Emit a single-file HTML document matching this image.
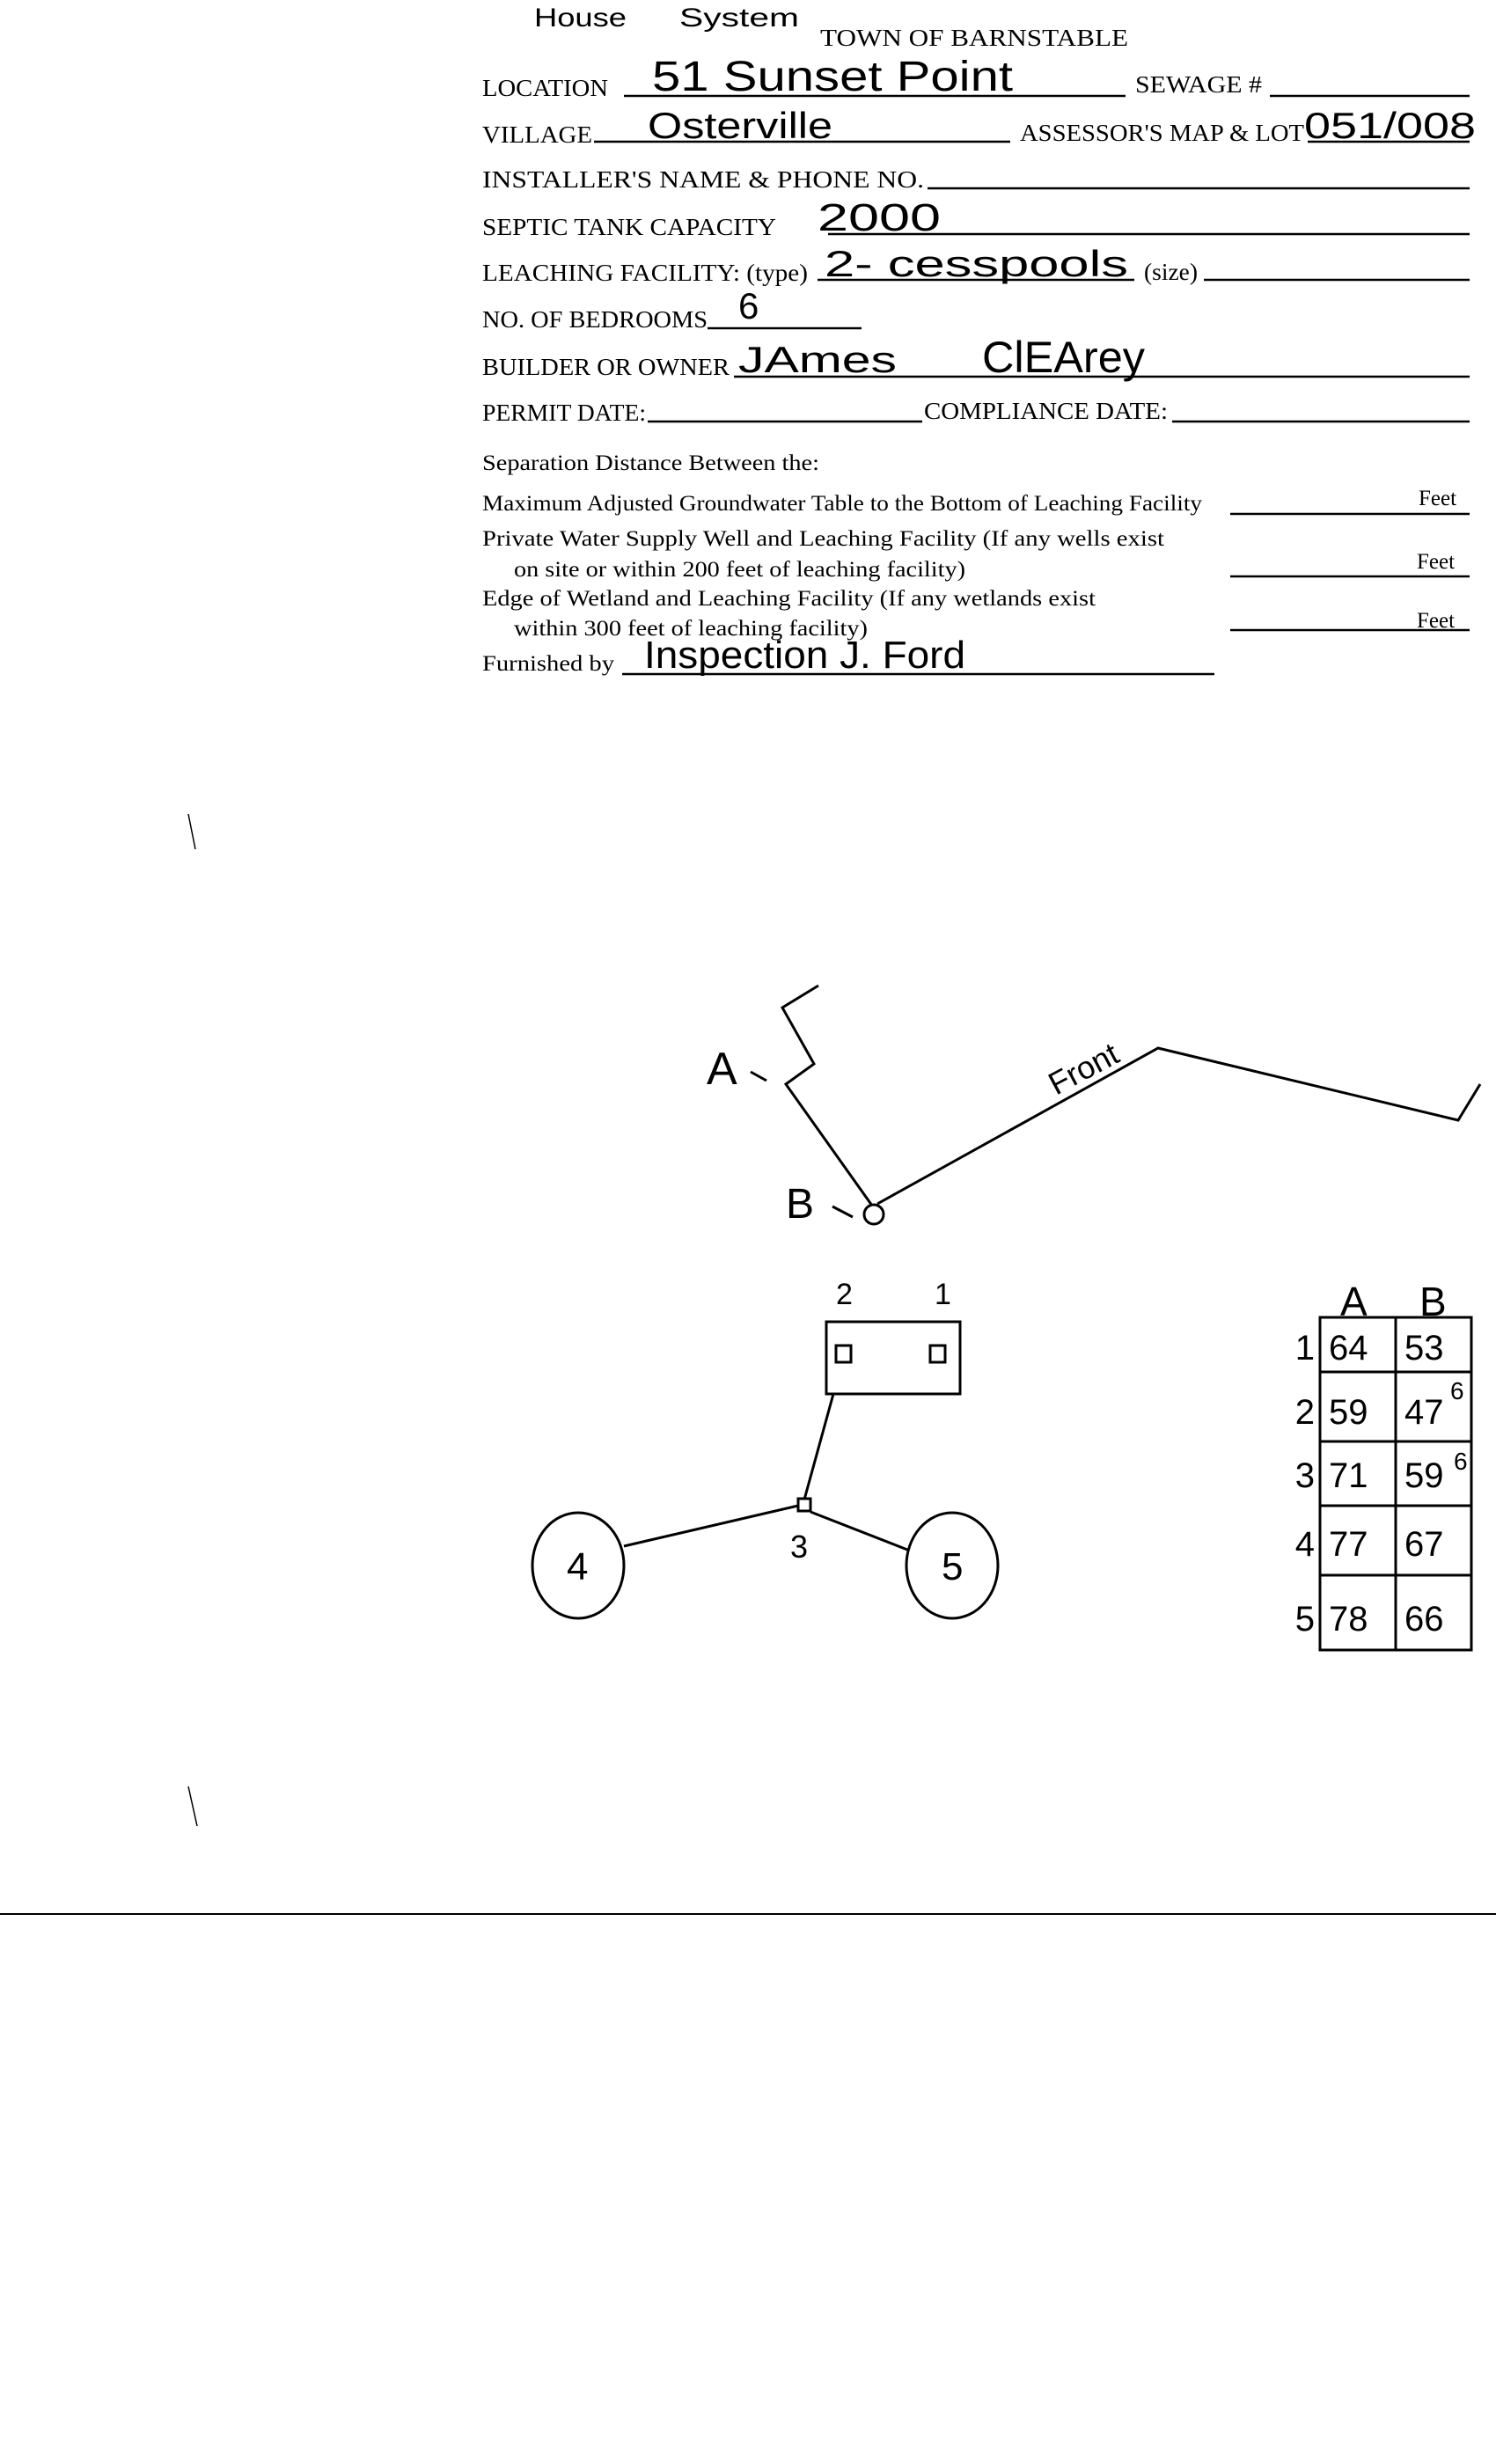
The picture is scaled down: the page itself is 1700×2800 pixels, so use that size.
<!DOCTYPE html>
<html><head><meta charset="utf-8"><style>
html,body{margin:0;padding:0;background:#fff;}
svg{display:block;}
.f{font-family:"Liberation Serif",serif;font-size:27px;fill:#000;}
.h{font-family:"Liberation Sans",sans-serif;fill:#000;}
</style></head><body>
<svg width="1700" height="2800" viewBox="0 0 1700 2800" xmlns="http://www.w3.org/2000/svg">
<rect width="1700" height="2800" fill="#fff"/>
<g class="f" lengthAdjust="spacingAndGlyphs">
<text x="932" y="52" textLength="350" lengthAdjust="spacingAndGlyphs">TOWN OF BARNSTABLE</text>
<text x="548" y="109" textLength="143" lengthAdjust="spacingAndGlyphs">LOCATION</text>
<text x="1290" y="105" textLength="144" lengthAdjust="spacingAndGlyphs">SEWAGE #</text>
<text x="548" y="162" textLength="125" lengthAdjust="spacingAndGlyphs">VILLAGE</text>
<text x="1159" y="160" textLength="323" lengthAdjust="spacingAndGlyphs">ASSESSOR'S MAP &amp; LOT</text>
<text x="548" y="213" textLength="502" lengthAdjust="spacingAndGlyphs">INSTALLER'S NAME &amp; PHONE NO.</text>
<text x="548" y="267" textLength="334" lengthAdjust="spacingAndGlyphs">SEPTIC TANK CAPACITY</text>
<text x="548" y="319" textLength="370" lengthAdjust="spacingAndGlyphs">LEACHING FACILITY: (type)</text>
<text x="1300" y="318" textLength="61" lengthAdjust="spacingAndGlyphs">(size)</text>
<text x="548" y="372" textLength="256" lengthAdjust="spacingAndGlyphs">NO. OF BEDROOMS</text>
<text x="548" y="426" textLength="281" lengthAdjust="spacingAndGlyphs">BUILDER OR OWNER</text>
<text x="548" y="478" textLength="186" lengthAdjust="spacingAndGlyphs">PERMIT DATE:</text>
<text x="1050" y="476" textLength="277" lengthAdjust="spacingAndGlyphs">COMPLIANCE DATE:</text>
<text x="548" y="534" textLength="383" lengthAdjust="spacingAndGlyphs" style="font-size:25px">Separation Distance Between the:</text>
<text x="548" y="580" textLength="818" lengthAdjust="spacingAndGlyphs" style="font-size:25px">Maximum Adjusted Groundwater Table to the Bottom of Leaching Facility</text>
<text x="548" y="620" textLength="775" lengthAdjust="spacingAndGlyphs" style="font-size:25px">Private Water Supply Well and Leaching Facility  (If any wells exist</text>
<text x="584" y="655" textLength="513" lengthAdjust="spacingAndGlyphs" style="font-size:25px">on site or within 200 feet of leaching facility)</text>
<text x="548" y="688" textLength="697" lengthAdjust="spacingAndGlyphs" style="font-size:25px">Edge of Wetland and Leaching Facility (If any wetlands exist</text>
<text x="584" y="722" textLength="402" lengthAdjust="spacingAndGlyphs" style="font-size:25px">within 300 feet of leaching facility)</text>
<text x="548" y="762" textLength="150" lengthAdjust="spacingAndGlyphs" style="font-size:25px">Furnished by</text>
<text x="1612" y="574" style="font-size:25px">Feet</text>
<text x="1610" y="646" style="font-size:25px">Feet</text>
<text x="1610" y="713" style="font-size:25px">Feet</text>
</g>
<g stroke="#000" stroke-width="2.5">
<line x1="709" y1="109" x2="1279" y2="109"/>
<line x1="1443" y1="109" x2="1670" y2="109"/>
<line x1="675" y1="161" x2="1148" y2="161"/>
<line x1="1486" y1="161" x2="1670" y2="161"/>
<line x1="1054" y1="214" x2="1670" y2="214"/>
<line x1="941" y1="266" x2="1670" y2="266"/>
<line x1="929" y1="318" x2="1289" y2="318"/>
<line x1="1368" y1="318" x2="1670" y2="318"/>
<line x1="804" y1="373" x2="979" y2="373"/>
<line x1="834" y1="428" x2="1670" y2="428"/>
<line x1="736" y1="479" x2="1048" y2="479"/>
<line x1="1332" y1="479" x2="1670" y2="479"/>
<line x1="1398" y1="584" x2="1670" y2="584"/>
<line x1="1398" y1="655" x2="1670" y2="655"/>
<line x1="1398" y1="716" x2="1670" y2="716"/>
<line x1="707" y1="766" x2="1380" y2="766"/>
<line x1="0" y1="2175" x2="1700" y2="2175" stroke-width="2"/>
</g>
<!-- handwriting -->
<g class="h">
<text x="607" y="30" font-size="30" textLength="105" lengthAdjust="spacingAndGlyphs">House</text>
<text x="772" y="30" font-size="30" textLength="136" lengthAdjust="spacingAndGlyphs">System</text>
<text x="741" y="103" font-size="48" textLength="410" lengthAdjust="spacingAndGlyphs">51  Sunset  Point</text>
<text x="736" y="157" font-size="42" textLength="210" lengthAdjust="spacingAndGlyphs">Osterville</text>
<text x="1482" y="157" font-size="42" textLength="195" lengthAdjust="spacingAndGlyphs">051/008</text>
<text x="929" y="262" font-size="44" textLength="140" lengthAdjust="spacingAndGlyphs">2000</text>
<text x="937" y="314" font-size="42" textLength="345" lengthAdjust="spacingAndGlyphs">2-  cesspools</text>
<text x="839" y="362" font-size="42">6</text>
<text x="839" y="423" font-size="42" textLength="180" lengthAdjust="spacingAndGlyphs">JAmes</text>
<text x="1116" y="423" font-size="50" textLength="185" lengthAdjust="spacingAndGlyphs">ClEArey</text>
<text x="732" y="759" font-size="44" textLength="365" lengthAdjust="spacingAndGlyphs">Inspection  J. Ford</text>
</g>
<!-- diagram -->
<g stroke="#000" stroke-width="3" fill="none">
<polyline points="930,1120 889,1145 925,1209 893,1232 991,1370"/>
<circle cx="993" cy="1380" r="11"/>
<polyline points="997,1368 1316,1191 1657,1273 1682,1232"/>
<line x1="853" y1="1218" x2="871" y2="1228"/>
<line x1="946" y1="1371" x2="969" y2="1383"/>
<rect x="939" y="1502" width="152" height="82"/>
<rect x="950" y="1529" width="17" height="19"/>
<rect x="1057" y="1529" width="17" height="19"/>
<line x1="947" y1="1584" x2="914" y2="1704"/>
<rect x="907" y="1703" width="14" height="14"/>
<ellipse cx="657" cy="1779" rx="52" ry="60"/>
<ellipse cx="1082" cy="1779" rx="52" ry="60"/>
<line x1="709" y1="1757" x2="907" y2="1711"/>
<line x1="921" y1="1718" x2="1031" y2="1761"/>
<rect x="1500" y="1497" width="172" height="378"/>
<line x1="1586" y1="1497" x2="1586" y2="1875"/>
<line x1="1500" y1="1559" x2="1672" y2="1559"/>
<line x1="1500" y1="1638" x2="1672" y2="1638"/>
<line x1="1500" y1="1711" x2="1672" y2="1711"/>
<line x1="1500" y1="1790" x2="1672" y2="1790"/>
</g>
<g class="h">
<text x="803" y="1232" font-size="52">A</text>
<text x="893" y="1384" font-size="48">B</text>
<text x="1200" y="1245" font-size="36" transform="rotate(-28 1200 1245)">Front</text>
<text x="950" y="1482" font-size="34">2</text>
<text x="1062" y="1482" font-size="34">1</text>
<text x="898" y="1770" font-size="36">3</text>
<text x="644" y="1795" font-size="44">4</text>
<text x="1070" y="1795" font-size="44">5</text>
<text x="1523" y="1495" font-size="46">A</text>
<text x="1613" y="1495" font-size="46">B</text>
<g font-size="40" text-anchor="end">
<text x="1494" y="1545">1</text>
<text x="1494" y="1618">2</text>
<text x="1494" y="1690">3</text>
<text x="1494" y="1768">4</text>
<text x="1494" y="1853">5</text>
</g>
<g font-size="40">
<text x="1510" y="1545">64</text><text x="1596" y="1545">53</text>
<text x="1510" y="1618">59</text><text x="1596" y="1618">47</text>
<text x="1510" y="1690">71</text><text x="1596" y="1690">59</text>
<text x="1510" y="1768">77</text><text x="1596" y="1768">67</text>
<text x="1510" y="1853">78</text><text x="1596" y="1853">66</text>
</g>
<text x="1648" y="1590" font-size="28">6</text>
<text x="1652" y="1670" font-size="28">6</text>
</g>
<g stroke="#000" stroke-width="1.5">
<line x1="214" y1="925" x2="222" y2="965"/>
<line x1="214" y1="2030" x2="224" y2="2075"/>
</g>
</svg>
</body></html>
